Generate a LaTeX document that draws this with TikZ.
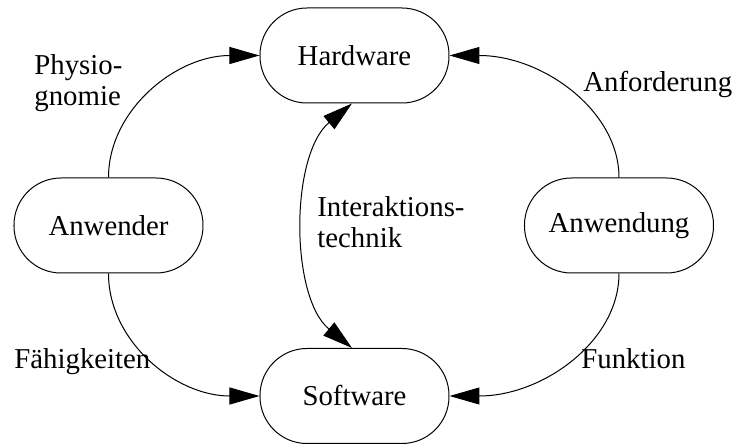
\documentclass[tikz,border=0pt]{standalone}
\usepackage{fontspec}
\setmainfont{Liberation Serif}
\usetikzlibrary{arrows.meta}
\begin{document}
\begin{tikzpicture}[x=0.5pt,y=-0.5pt,
  font=\fontsize{14.4}{15.5}\selectfont,
  pill/.style={draw,line width=0.5pt,rounded corners=23.5pt,minimum width=94.5pt,minimum height=47.5pt,inner sep=0pt},
  lbl/.style={inner sep=0pt,align=left},
  conn/.style={line width=0.5pt,-{Triangle[length=15pt,width=8.5pt]}},
  biconn/.style={line width=0.5pt,{Triangle[length=15pt,width=8.5pt]}-{Triangle[length=15pt,width=8.5pt]}}]
\useasboundingbox (0,0) rectangle (736,444);
\node[pill] (hw) at (354.5,55.5) {Hardware};
\node[pill] (sw) at (354.5,396) {Software};
\node[pill] (aw) at (108.5,225.5) {Anwender};
\node[pill] (ag) at (619,225.5) {Anwendung};
\draw[conn] (aw.north) .. controls +(0,-67) and +(-84,0) .. (hw.west);
\draw[conn] (aw.south) .. controls +(0,68) and +(-84,0) .. (sw.west);
\draw[conn] (ag.north) .. controls +(0,-67) and +(93,0) .. (hw.east);
\draw[conn] (ag.south) .. controls +(0,68) and +(93,0) .. (sw.east);
\coordinate (hwb) at ([xshift=-1.25pt]hw.south);
\coordinate (swt) at ([xshift=-1.25pt]sw.north);
\draw[biconn] (hwb) .. controls (290,155) and (290,297) .. (swt);
\node[lbl,anchor=north west] (l1) at (34,54.3) {Physio-\\gnomie};
\node[lbl,anchor=base west] (l2) at (583,91.5) {Anforderung};
\node[lbl,anchor=north west] (l3) at (317,196.3) {Interaktions-\\technik};
\node[lbl,anchor=base west] (l4) at (14,369) {Fähigkeiten};
\node[lbl,anchor=base west] (l5) at (581,369) {Funktion};
\end{tikzpicture}
\end{document}
